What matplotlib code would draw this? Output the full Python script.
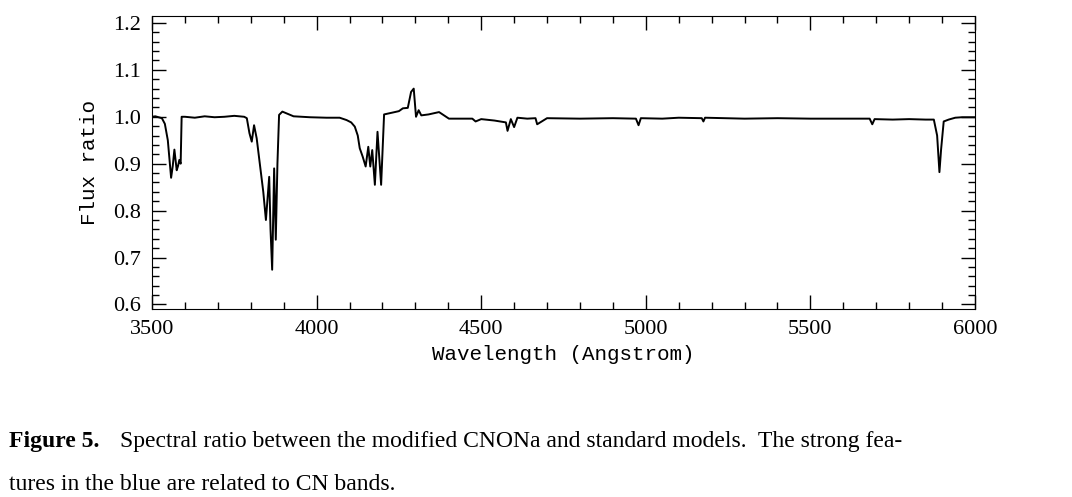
import numpy as np
import matplotlib.pyplot as plt
from matplotlib.ticker import MultipleLocator

# Spectrum (wavelength in Angstrom, flux ratio)
wave = [3500, 3510, 3520, 3530, 3539, 3548, 3558, 3563, 3568, 3575, 3579, 3583, 3587, 3590,
        3600, 3630, 3660, 3690, 3720, 3750, 3780, 3788, 3796, 3803, 3810, 3818, 3828, 3838,
        3846, 3856, 3860, 3865, 3871, 3876, 3881, 3886, 3896, 3930, 3980, 4030, 4070, 4091,
        4105, 4116, 4125, 4131, 4140, 4149, 4157, 4163, 4169, 4177, 4185, 4196, 4205, 4231,
        4250, 4262, 4277, 4287, 4295, 4302, 4310, 4318, 4340, 4372, 4402, 4440, 4473, 4483,
        4500, 4540, 4575, 4580, 4590, 4600, 4610, 4640, 4665, 4670, 4700, 4800, 4900, 4970,
        4978, 4985, 5050, 5100, 5170, 5175, 5180, 5300, 5400, 5500, 5600, 5680, 5688, 5695,
        5750, 5800, 5850, 5875, 5885, 5892, 5897, 5905, 5920, 5940, 5960, 6000]
flux = [1.000, 1.001, 0.999, 0.997, 0.985, 0.950, 0.870, 0.895, 0.930, 0.886, 0.895, 0.908, 0.900, 1.000,
        1.000, 0.998, 1.001, 0.999, 1.000, 1.002, 1.000, 0.997, 0.965, 0.947, 0.982, 0.954, 0.897, 0.840,
        0.780, 0.872, 0.760, 0.674, 0.890, 0.738, 0.900, 1.004, 1.011, 1.001, 0.999, 0.998, 0.998, 0.993,
        0.988, 0.979, 0.960, 0.933, 0.915, 0.894, 0.936, 0.894, 0.929, 0.855, 0.968, 0.855, 1.005, 1.009,
        1.012, 1.018, 1.019, 1.053, 1.060, 1.000, 1.014, 1.003, 1.005, 1.010, 0.996, 0.996, 0.996, 0.990,
        0.995, 0.992, 0.988, 0.970, 0.995, 0.978, 0.998, 0.996, 0.997, 0.984, 0.997, 0.996, 0.997, 0.996,
        0.982, 0.997, 0.996, 0.998, 0.997, 0.990, 0.998, 0.996, 0.997, 0.996, 0.996, 0.996, 0.984, 0.995,
        0.994, 0.995, 0.994, 0.994, 0.960, 0.882, 0.930, 0.990, 0.994, 0.998, 0.999, 0.999]

fig = plt.figure(figsize=(10.72, 4.97), dpi=100)
ax = fig.add_axes([0.1418, 0.378, 0.7677, 0.59])
ax.plot(wave, flux, color='black', lw=1.4)

ax.set_xlim(3500, 6000)
ax.set_ylim(0.59, 1.215)
ax.xaxis.set_major_locator(MultipleLocator(500))
ax.xaxis.set_minor_locator(MultipleLocator(100))
ax.yaxis.set_major_locator(MultipleLocator(0.1))
ax.yaxis.set_minor_locator(MultipleLocator(0.02))
ax.tick_params(which='both', direction='in', top=True, right=True, width=1)
ax.tick_params(which='major', length=10, labelsize=16, pad=8)
ax.tick_params(which='minor', length=5)
for lab in ax.get_xticklabels() + ax.get_yticklabels():
    lab.set_family('Liberation Serif')
ax.set_xlabel('Wavelength (Angstrom)', family='Liberation Mono', fontsize=15, labelpad=4)
ax.set_ylabel('Flux ratio', family='Liberation Mono', fontsize=15, labelpad=10)

cap = dict(fontsize=17, family='Liberation Serif')
fig.text(0.008, 0.1, 'Figure 5.', fontweight='bold', **cap)
fig.text(0.112, 0.1, 'Spectral ratio between the modified CNONa and standard models.  The strong fea-', **cap)
fig.text(0.008, 0.015, 'tures in the blue are related to CN bands.', **cap)

fig.savefig('out.png')
